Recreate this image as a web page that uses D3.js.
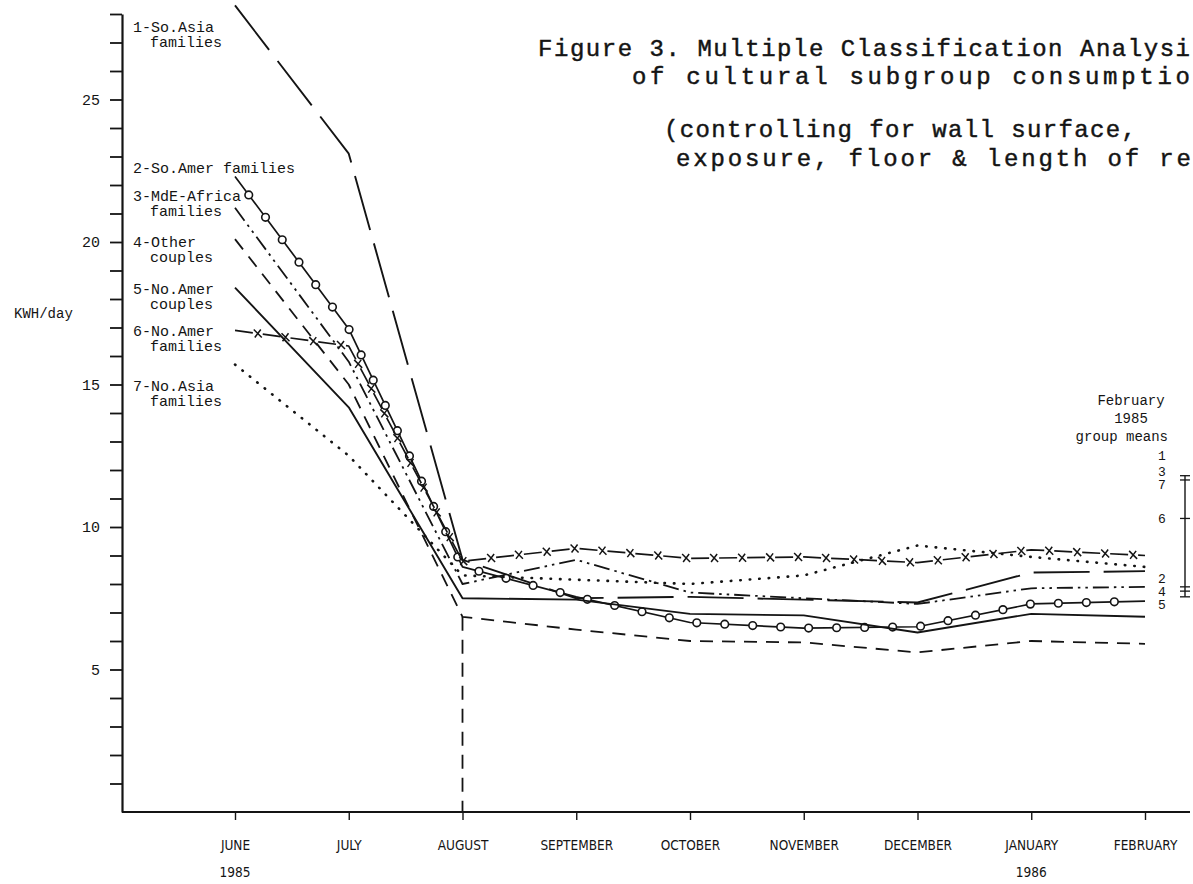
<!DOCTYPE html>
<html>
<head>
<meta charset="utf-8">
<script src="https://cdnjs.cloudflare.com/ajax/libs/d3/7.8.5/d3.min.js"></script>
<style>
  body { margin: 0; background: #fff; }
  svg { display: block; }
  text { fill: #141414; font-family: "Liberation Mono", "DejaVu Sans Mono", monospace; }
  .month { font-family: "Liberation Sans Narrow", "DejaVu Sans Condensed", "Liberation Sans", sans-serif; font-size: 13.5px; }
  .title { stroke: #141414; stroke-width: 0.45px; }
</style>
</head>
<body>
<div id="chart"></div>
<script>
// months on the x axis, KWH/day readings per cultural subgroup
var months = ["JUNE", "JULY", "AUGUST", "SEPTEMBER", "OCTOBER", "NOVEMBER", "DECEMBER", "JANUARY", "FEBRUARY"];
var yearMonths = ["JUNE", "JANUARY"];
var yearLabels = ["1985", "1986"];

var soAsiaFamilies    = [28.3, 23.1, 8.85, 7.5, 7.55, 7.45, 7.35, 8.4, 8.45];
var soAmerFamilies    = [22.3, 16.95, 8.6, 7.55, 6.65, 6.45, 6.5, 7.3, 7.4];
var mdeAfricaFamilies = [21.2, 15.8, 8.0, 8.85, 7.7, 7.5, 7.3, 7.85, 7.9];
var otherCouples      = [20.1, 15.0, 6.85, 6.4, 6.0, 5.95, 5.6, 6.0, 5.9];
var noAmerCouples     = [18.4, 14.2, 7.5, 7.45, 6.95, 6.9, 6.3, 6.95, 6.85];
var noAmerFamilies    = [16.9, 16.35, 8.8, 9.25, 8.9, 8.95, 8.75, 9.2, 9.0];
var noAsiaFamilies    = [15.7, 12.5, 8.3, 8.15, 8.0, 8.3, 9.35, 8.95, 8.6];

var groupLabels = [
  ["1-So.Asia", "families"],
  ["2-So.Amer families"],
  ["3-MdE-Africa", "families"],
  ["4-Other", "couples"],
  ["5-No.Amer", "couples"],
  ["6-No.Amer", "families"],
  ["7-No.Asia", "families"]
];

// February 1985 group means (bracket on the right)
var febMeanGroups = ["1", "3", "7", "6", "2", "4", "5"];
var febMeanValues = [12.5, 11.8, 11.65, 10.3, 7.9, 7.75, 7.55];

var yTickValues = d3.range(1, 29);
var yTickLabels = [5, 10, 15, 20, 25];

var titleLines = [
  "Figure 3. Multiple Classification Analysi",
  "of cultural subgroup consumptio",
  "(controlling for wall surface,",
  "exposure, floor & length of re"
];

var svgWidth = 1193;
var svgHeight = 884;

var margin = {
  top: 14,
  right: 48,
  bottom: 72,
  left: 122
};

var width = svgWidth - margin.left - margin.right;
var height = svgHeight - margin.top - margin.bottom;

var svg = d3.select("#chart")
  .append("svg")
  .attr("width", svgWidth)
  .attr("height", svgHeight);

var chartGroup = svg.append("g")
  .attr("transform", `translate(${margin.left}, ${margin.top})`);

// scales
var xScale = d3.scalePoint()
  .domain(months)
  .range([113, 1023]);

var yScale = d3.scaleLinear()
  .domain([0, 28])
  .range([height, 0]);

// y axis
var leftAxis = d3.axisLeft(yScale)
  .tickValues(yTickValues)
  .tickSize(12)
  .tickSizeOuter(0)
  .tickPadding(10)
  .tickFormat(d => yTickLabels.indexOf(d) >= 0 ? d : "");

var yAxisG = chartGroup.append("g").call(leftAxis);
yAxisG.select(".domain").attr("stroke", "#141414").attr("stroke-width", 2.2);
yAxisG.selectAll(".tick line").attr("stroke", "#141414").attr("stroke-width", 1.8);
yAxisG.selectAll(".tick text")
  .attr("font-family", "Liberation Mono, monospace")
  .attr("font-size", 15)
  .attr("fill", "#141414");

// x axis: baseline runs past the last month
chartGroup.append("line")
  .attr("x1", 0).attr("x2", 1068)
  .attr("y1", height).attr("y2", height)
  .attr("stroke", "#141414")
  .attr("stroke-width", 2.2);

var bottomAxis = d3.axisBottom(xScale)
  .tickSize(8)
  .tickSizeOuter(0)
  .tickPadding(20);

var xAxisG = chartGroup.append("g")
  .attr("transform", `translate(0, ${height})`)
  .call(bottomAxis);
xAxisG.select(".domain").remove();
xAxisG.selectAll(".tick line").attr("stroke", "#141414").attr("stroke-width", 1.4);
xAxisG.selectAll(".tick text")
  .attr("class", "month")
  .attr("font-family", null)
  .attr("font-size", null)
  .attr("fill", "#141414");

chartGroup.selectAll(".year")
  .data(yearLabels)
  .enter()
  .append("text")
  .attr("class", "month")
  .attr("text-anchor", "middle")
  .attr("x", (d, i) => xScale(yearMonths[i]))
  .attr("y", height + 65)
  .text(d => d);

// y axis label
svg.append("text")
  .attr("x", 14)
  .attr("y", 318)
  .attr("font-size", 14)
  .text("KWH/day");

// drop line at August
chartGroup.append("line")
  .attr("x1", xScale("AUGUST")).attr("x2", xScale("AUGUST"))
  .attr("y1", yScale(otherCouples[2])).attr("y2", yScale(0))
  .attr("stroke", "#141414")
  .attr("stroke-width", 1.8)
  .attr("stroke-dasharray", "14,9");

// series with their line styles
var seriesList = [
  {values: soAsiaFamilies,    dash: "56,14",             width: 1.9, marker: null},
  {values: soAmerFamilies,    dash: null,                width: 1.7, marker: "o"},
  {values: mdeAfricaFamilies, dash: "16,5,2.5,5,2.5,5",  width: 1.8, marker: null},
  {values: otherCouples,      dash: "13,9",              width: 1.8, marker: null},
  {values: noAmerCouples,     dash: null,                width: 1.9, marker: null},
  {values: noAmerFamilies,    dash: "18,10",             width: 1.7, marker: "x"},
  {values: noAsiaFamilies,    dash: "0.5,9",             width: 2.6, marker: null}
];

var lineGen = d3.line()
  .x((d, i) => xScale(months[i]))
  .y(d => yScale(d));

seriesList.forEach(function(s) {
  var path = chartGroup.append("path")
    .datum(s.values)
    .attr("d", lineGen)
    .attr("fill", "none")
    .attr("stroke", "#141414")
    .attr("stroke-width", s.width)
    .attr("stroke-linecap", s.dash === "0.5,9" ? "round" : "butt")
    .attr("stroke-linejoin", "round")
    .attr("stroke-dasharray", s.dash);

  if (s.marker) {
    var node = path.node();
    var total = node.getTotalLength();
    var pts = [];
    for (var len = 23; len < total - 4; len += 28) {
      pts.push(node.getPointAtLength(len));
    }
    if (s.marker === "o") {
      chartGroup.selectAll(null)
        .data(pts)
        .enter()
        .append("circle")
        .attr("cx", p => p.x)
        .attr("cy", p => p.y)
        .attr("r", 3.8)
        .attr("fill", "#fff")
        .attr("stroke", "#141414")
        .attr("stroke-width", 1.6);
    } else {
      chartGroup.selectAll(null)
        .data(pts)
        .enter()
        .append("path")
        .attr("d", p => `M${p.x - 4},${p.y - 4}L${p.x + 4},${p.y + 4}M${p.x + 3},${p.y - 4}L${p.x - 3},${p.y + 4}`)
        .attr("stroke", "#141414")
        .attr("stroke-width", 1.5)
        .attr("fill", "none");
    }
  }
});

// group labels on the left
var labelTop = [32, 173, 201, 247, 294, 336, 391];
groupLabels.forEach(function(lines, i) {
  lines.forEach(function(t, j) {
    svg.append("text")
      .attr("x", j === 0 ? 133 : 150)
      .attr("y", labelTop[i] + j * 15)
      .attr("font-size", 15)
      .text(t);
  });
});

// February 1985 group means
var meansX = 1162;
var bracketX = 1185;
svg.append("text").attr("x", 1131).attr("y", 405).attr("text-anchor", "middle").attr("font-size", 14).text("February");
svg.append("text").attr("x", 1131).attr("y", 423).attr("text-anchor", "middle").attr("font-size", 14).text("1985");
svg.append("text").attr("x", 1168).attr("y", 441).attr("text-anchor", "end").attr("font-size", 14).text("group means");

var meanY = febMeanValues.map(v => yScale(v) + margin.top);
var labelY = meanY.slice();
var minGap = 13;
for (var it = 0; it < 80; it++) {
  for (var k = 1; k < labelY.length; k++) {
    var gap = labelY[k] - labelY[k - 1];
    if (gap < minGap) {
      var push = (minGap - gap) / 2;
      labelY[k - 1] -= push;
      labelY[k] += push;
    }
  }
}
febMeanGroups.forEach(function(g, i) {
  svg.append("text")
    .attr("x", meansX)
    .attr("y", labelY[i] + 4.5)
    .attr("text-anchor", "middle")
    .attr("font-size", 13)
    .text(g);
});

var bracketVals = febMeanValues.slice(1);
svg.append("line")
  .attr("x1", bracketX).attr("x2", bracketX)
  .attr("y1", yScale(d3.max(bracketVals)) + margin.top)
  .attr("y2", yScale(d3.min(bracketVals)) + margin.top)
  .attr("stroke", "#141414")
  .attr("stroke-width", 1.4);
svg.selectAll(".meanTick")
  .data(bracketVals)
  .enter()
  .append("line")
  .attr("x1", bracketX - 5).attr("x2", bracketX + 5)
  .attr("y1", d => yScale(d) + margin.top)
  .attr("y2", d => yScale(d) + margin.top)
  .attr("stroke", "#141414")
  .attr("stroke-width", 1.3);

// title block (runs off the right edge as in the scan)
var titleX = [538, 632, 664, 676];
var titleY = [56, 84, 137, 166];
var titleW = [652, 558, 472, 515];
titleLines.forEach(function(t, i) {
  svg.append("text")
    .attr("class", "title")
    .attr("x", titleX[i])
    .attr("y", titleY[i])
    .attr("font-size", 24)
    .attr("textLength", titleW[i])
    .attr("lengthAdjust", "spacing")
    .text(t);
});
</script>
</body>
</html>
